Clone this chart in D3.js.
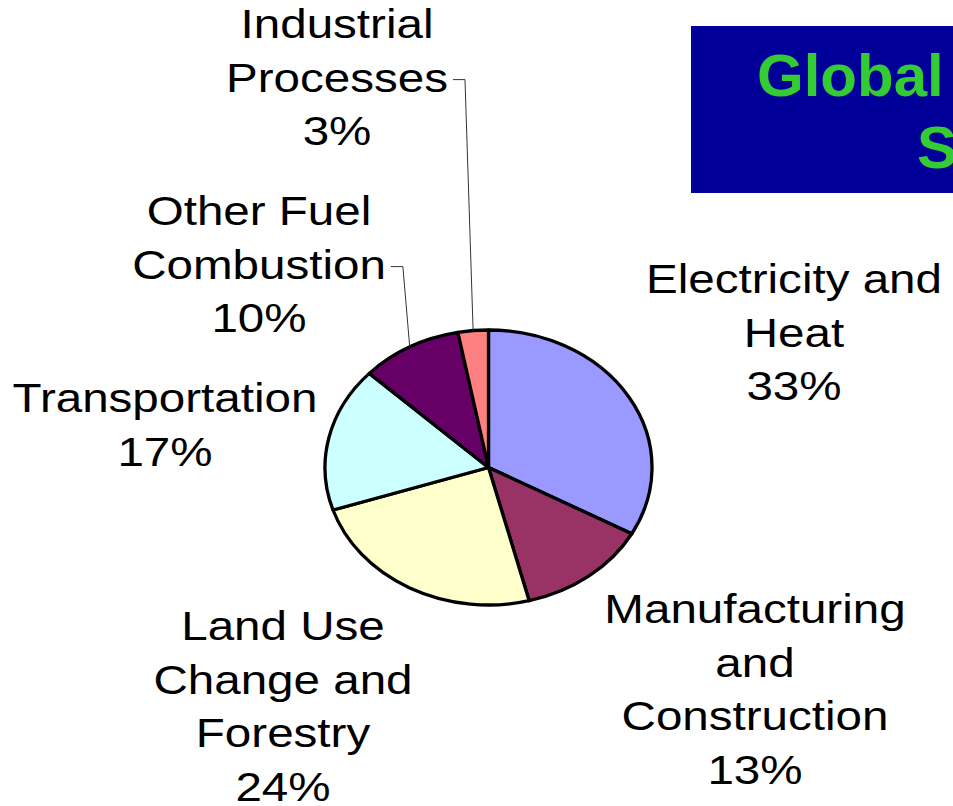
<!DOCTYPE html>
<html>
<head>
<meta charset="utf-8">
<script src="https://cdn.jsdelivr.net/npm/d3@7"></script>
<style>
  html, body { margin: 0; padding: 0; background: #ffffff; overflow: hidden; }
  svg { display: block; }
</style>
</head>
<body>
<svg id="chart" width="953" height="806"></svg>
<script>
// Emission sources, clockwise from 12 o'clock
const categories = [
  "Electricity and\nHeat",
  "Manufacturing\nand\nConstruction",
  "Land Use\nChange and\nForestry",
  "Transportation",
  "Other Fuel\nCombustion",
  "Industrial\nProcesses"
];
const shares = [33, 13, 24, 17, 10, 3];
const sliceColors = ["#9999FF", "#993366", "#FFFFCC", "#CCFFFF", "#660066", "#FF8080"];
const titleLines = ["Global Emissions", "Sector"];

// Label placement: centre x and first baseline for each category
const labelPos = [
  { x: 794, y: 293 },
  { x: 755, y: 623 },
  { x: 283, y: 640 },
  { x: 165, y: 412 },
  { x: 259, y: 225 },
  { x: 337, y: 38 }
];
// labels joined to their slice by a leader line (index -> line of the label it leaves from)
const leaders = { 4: 1, 5: 1 };

const svg = d3.select("#chart");
const W = 953, H = 806;

// Title panel
svg.append("rect")
  .attr("x", 691).attr("y", 26)
  .attr("width", W - 691 + 10).attr("height", 167)
  .attr("fill", "#000099");
const titleG = svg.append("g")
  .attr("font-family", "'Liberation Sans', Arial, sans-serif")
  .attr("font-weight", "bold")
  .attr("font-size", 60)
  .attr("fill", "#33CC33");
titleG.append("text").attr("x", 757).attr("y", 96).text(titleLines[0]);
titleG.append("text").attr("x", 917).attr("y", 168).text(titleLines[1]);

// Pie, drawn as an ellipse
const cx = 488.5, cy = 467.5, rx = 163.5, ry = 137.5;
const pie = d3.pie().sort(null).value(d => d);
const arcs = pie(shares);
const arc = d3.arc().innerRadius(0).outerRadius(rx);

const pieG = svg.append("g")
  .attr("transform", `translate(${cx},${cy}) scale(1,${ry / rx})`);
pieG.selectAll("path")
  .data(arcs)
  .join("path")
  .attr("d", arc)
  .attr("fill", (d, i) => sliceColors[i])
  .attr("stroke", "#000")
  .attr("stroke-width", 3.3)
  .attr("stroke-linejoin", "round")
  .attr("vector-effect", "non-scaling-stroke");

// Labels
const sx = 1.16, fs = 41, lh = 53.6;
const labelG = svg.append("g")
  .attr("font-family", "'Liberation Sans', Arial, sans-serif")
  .attr("font-size", fs)
  .attr("fill", "#000");

categories.forEach((name, i) => {
  const lines = name.split("\n").concat([shares[i] + "%"]);
  const g = labelG.append("g")
    .attr("transform", `translate(${labelPos[i].x},${labelPos[i].y}) scale(${sx},1)`);
  const texts = lines.map((ln, k) =>
    g.append("text")
      .attr("x", 0).attr("y", k * lh)
      .attr("text-anchor", "middle")
      .text(ln));

  if (leaders[i] !== undefined) {
    const k = leaders[i];
    const half = texts[k].node().getComputedTextLength() * sx / 2;
    const x0 = labelPos[i].x + half + 5;
    const y0 = labelPos[i].y + k * lh - 12;
    // point on the slice edge at its mid angle
    const a = (arcs[i].startAngle + arcs[i].endAngle) / 2;
    const ex = cx + rx * Math.sin(a);
    const ey = cy - ry * Math.cos(a);
    svg.append("polyline")
      .attr("points", `${x0},${y0} ${x0 + 12},${y0} ${ex},${ey}`)
      .attr("fill", "none")
      .attr("stroke", "#333")
      .attr("stroke-width", 1);
  }
});
</script>
</body>
</html>
